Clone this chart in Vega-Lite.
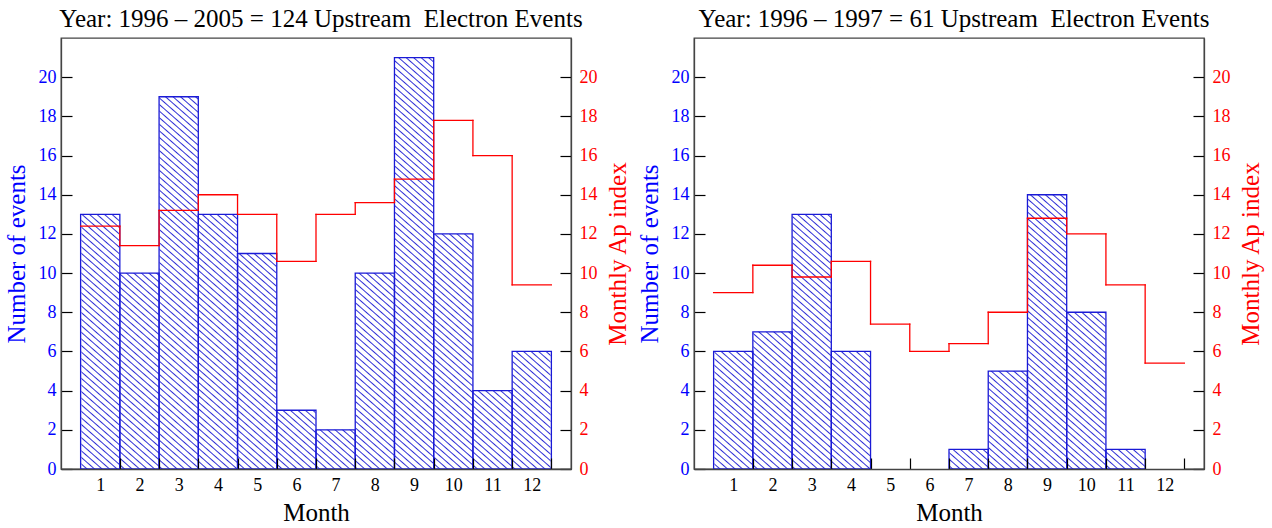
{
  "$schema": "https://vega.github.io/schema/vega-lite/v6.json",
  "background": "white",
  "padding": {"left": 3, "top": 6, "right": 2, "bottom": 0},
  "spacing": 5,
  "params": [
    {
      "name": "hatchFill",
      "value": {
        "gradient": "linear", "x1": 0, "y1": 1, "x2": 1, "y2": 0,
        "stops": [
          {"offset":0.0044,"color":"#fff"},{"offset":0.0060,"color":"#2e2ed6"},{"offset":0.0076,"color":"#fff"},
          {"offset":0.0124,"color":"#fff"},{"offset":0.0140,"color":"#2e2ed6"},{"offset":0.0156,"color":"#fff"},
          {"offset":0.0204,"color":"#fff"},{"offset":0.0220,"color":"#2e2ed6"},{"offset":0.0236,"color":"#fff"},
          {"offset":0.0284,"color":"#fff"},{"offset":0.0300,"color":"#2e2ed6"},{"offset":0.0316,"color":"#fff"},
          {"offset":0.0364,"color":"#fff"},{"offset":0.0380,"color":"#2e2ed6"},{"offset":0.0396,"color":"#fff"},
          {"offset":0.0444,"color":"#fff"},{"offset":0.0460,"color":"#2e2ed6"},{"offset":0.0476,"color":"#fff"},
          {"offset":0.0524,"color":"#fff"},{"offset":0.0540,"color":"#2e2ed6"},{"offset":0.0556,"color":"#fff"},
          {"offset":0.0604,"color":"#fff"},{"offset":0.0620,"color":"#2e2ed6"},{"offset":0.0636,"color":"#fff"},
          {"offset":0.0684,"color":"#fff"},{"offset":0.0700,"color":"#2e2ed6"},{"offset":0.0716,"color":"#fff"},
          {"offset":0.0764,"color":"#fff"},{"offset":0.0780,"color":"#2e2ed6"},{"offset":0.0796,"color":"#fff"},
          {"offset":0.0844,"color":"#fff"},{"offset":0.0860,"color":"#2e2ed6"},{"offset":0.0876,"color":"#fff"},
          {"offset":0.0924,"color":"#fff"},{"offset":0.0940,"color":"#2e2ed6"},{"offset":0.0956,"color":"#fff"},
          {"offset":0.1004,"color":"#fff"},{"offset":0.1020,"color":"#2e2ed6"},{"offset":0.1036,"color":"#fff"},
          {"offset":0.1084,"color":"#fff"},{"offset":0.1100,"color":"#2e2ed6"},{"offset":0.1116,"color":"#fff"},
          {"offset":0.1164,"color":"#fff"},{"offset":0.1180,"color":"#2e2ed6"},{"offset":0.1196,"color":"#fff"},
          {"offset":0.1244,"color":"#fff"},{"offset":0.1260,"color":"#2e2ed6"},{"offset":0.1276,"color":"#fff"},
          {"offset":0.1324,"color":"#fff"},{"offset":0.1340,"color":"#2e2ed6"},{"offset":0.1356,"color":"#fff"},
          {"offset":0.1404,"color":"#fff"},{"offset":0.1420,"color":"#2e2ed6"},{"offset":0.1436,"color":"#fff"},
          {"offset":0.1484,"color":"#fff"},{"offset":0.1500,"color":"#2e2ed6"},{"offset":0.1516,"color":"#fff"},
          {"offset":0.1564,"color":"#fff"},{"offset":0.1580,"color":"#2e2ed6"},{"offset":0.1596,"color":"#fff"},
          {"offset":0.1644,"color":"#fff"},{"offset":0.1660,"color":"#2e2ed6"},{"offset":0.1676,"color":"#fff"},
          {"offset":0.1724,"color":"#fff"},{"offset":0.1740,"color":"#2e2ed6"},{"offset":0.1756,"color":"#fff"},
          {"offset":0.1804,"color":"#fff"},{"offset":0.1820,"color":"#2e2ed6"},{"offset":0.1836,"color":"#fff"},
          {"offset":0.1884,"color":"#fff"},{"offset":0.1900,"color":"#2e2ed6"},{"offset":0.1916,"color":"#fff"},
          {"offset":0.1964,"color":"#fff"},{"offset":0.1980,"color":"#2e2ed6"},{"offset":0.1996,"color":"#fff"},
          {"offset":0.2044,"color":"#fff"},{"offset":0.2060,"color":"#2e2ed6"},{"offset":0.2076,"color":"#fff"},
          {"offset":0.2124,"color":"#fff"},{"offset":0.2140,"color":"#2e2ed6"},{"offset":0.2156,"color":"#fff"},
          {"offset":0.2204,"color":"#fff"},{"offset":0.2220,"color":"#2e2ed6"},{"offset":0.2236,"color":"#fff"},
          {"offset":0.2284,"color":"#fff"},{"offset":0.2300,"color":"#2e2ed6"},{"offset":0.2316,"color":"#fff"},
          {"offset":0.2364,"color":"#fff"},{"offset":0.2380,"color":"#2e2ed6"},{"offset":0.2396,"color":"#fff"},
          {"offset":0.2444,"color":"#fff"},{"offset":0.2460,"color":"#2e2ed6"},{"offset":0.2476,"color":"#fff"},
          {"offset":0.2524,"color":"#fff"},{"offset":0.2540,"color":"#2e2ed6"},{"offset":0.2556,"color":"#fff"},
          {"offset":0.2604,"color":"#fff"},{"offset":0.2620,"color":"#2e2ed6"},{"offset":0.2636,"color":"#fff"},
          {"offset":0.2684,"color":"#fff"},{"offset":0.2700,"color":"#2e2ed6"},{"offset":0.2716,"color":"#fff"},
          {"offset":0.2764,"color":"#fff"},{"offset":0.2780,"color":"#2e2ed6"},{"offset":0.2796,"color":"#fff"},
          {"offset":0.2844,"color":"#fff"},{"offset":0.2860,"color":"#2e2ed6"},{"offset":0.2876,"color":"#fff"},
          {"offset":0.2924,"color":"#fff"},{"offset":0.2940,"color":"#2e2ed6"},{"offset":0.2956,"color":"#fff"},
          {"offset":0.3004,"color":"#fff"},{"offset":0.3020,"color":"#2e2ed6"},{"offset":0.3036,"color":"#fff"},
          {"offset":0.3084,"color":"#fff"},{"offset":0.3100,"color":"#2e2ed6"},{"offset":0.3116,"color":"#fff"},
          {"offset":0.3164,"color":"#fff"},{"offset":0.3180,"color":"#2e2ed6"},{"offset":0.3196,"color":"#fff"},
          {"offset":0.3244,"color":"#fff"},{"offset":0.3260,"color":"#2e2ed6"},{"offset":0.3276,"color":"#fff"},
          {"offset":0.3324,"color":"#fff"},{"offset":0.3340,"color":"#2e2ed6"},{"offset":0.3356,"color":"#fff"},
          {"offset":0.3404,"color":"#fff"},{"offset":0.3420,"color":"#2e2ed6"},{"offset":0.3436,"color":"#fff"},
          {"offset":0.3484,"color":"#fff"},{"offset":0.3500,"color":"#2e2ed6"},{"offset":0.3516,"color":"#fff"},
          {"offset":0.3564,"color":"#fff"},{"offset":0.3580,"color":"#2e2ed6"},{"offset":0.3596,"color":"#fff"},
          {"offset":0.3644,"color":"#fff"},{"offset":0.3660,"color":"#2e2ed6"},{"offset":0.3676,"color":"#fff"},
          {"offset":0.3724,"color":"#fff"},{"offset":0.3740,"color":"#2e2ed6"},{"offset":0.3756,"color":"#fff"},
          {"offset":0.3804,"color":"#fff"},{"offset":0.3820,"color":"#2e2ed6"},{"offset":0.3836,"color":"#fff"},
          {"offset":0.3884,"color":"#fff"},{"offset":0.3900,"color":"#2e2ed6"},{"offset":0.3916,"color":"#fff"},
          {"offset":0.3964,"color":"#fff"},{"offset":0.3980,"color":"#2e2ed6"},{"offset":0.3996,"color":"#fff"},
          {"offset":0.4044,"color":"#fff"},{"offset":0.4060,"color":"#2e2ed6"},{"offset":0.4076,"color":"#fff"},
          {"offset":0.4124,"color":"#fff"},{"offset":0.4140,"color":"#2e2ed6"},{"offset":0.4156,"color":"#fff"},
          {"offset":0.4204,"color":"#fff"},{"offset":0.4220,"color":"#2e2ed6"},{"offset":0.4236,"color":"#fff"},
          {"offset":0.4284,"color":"#fff"},{"offset":0.4300,"color":"#2e2ed6"},{"offset":0.4316,"color":"#fff"},
          {"offset":0.4364,"color":"#fff"},{"offset":0.4380,"color":"#2e2ed6"},{"offset":0.4396,"color":"#fff"},
          {"offset":0.4444,"color":"#fff"},{"offset":0.4460,"color":"#2e2ed6"},{"offset":0.4476,"color":"#fff"},
          {"offset":0.4524,"color":"#fff"},{"offset":0.4540,"color":"#2e2ed6"},{"offset":0.4556,"color":"#fff"},
          {"offset":0.4604,"color":"#fff"},{"offset":0.4620,"color":"#2e2ed6"},{"offset":0.4636,"color":"#fff"},
          {"offset":0.4684,"color":"#fff"},{"offset":0.4700,"color":"#2e2ed6"},{"offset":0.4716,"color":"#fff"},
          {"offset":0.4764,"color":"#fff"},{"offset":0.4780,"color":"#2e2ed6"},{"offset":0.4796,"color":"#fff"},
          {"offset":0.4844,"color":"#fff"},{"offset":0.4860,"color":"#2e2ed6"},{"offset":0.4876,"color":"#fff"},
          {"offset":0.4924,"color":"#fff"},{"offset":0.4940,"color":"#2e2ed6"},{"offset":0.4956,"color":"#fff"},
          {"offset":0.5004,"color":"#fff"},{"offset":0.5020,"color":"#2e2ed6"},{"offset":0.5036,"color":"#fff"},
          {"offset":0.5084,"color":"#fff"},{"offset":0.5100,"color":"#2e2ed6"},{"offset":0.5116,"color":"#fff"},
          {"offset":0.5164,"color":"#fff"},{"offset":0.5180,"color":"#2e2ed6"},{"offset":0.5196,"color":"#fff"},
          {"offset":0.5244,"color":"#fff"},{"offset":0.5260,"color":"#2e2ed6"},{"offset":0.5276,"color":"#fff"},
          {"offset":0.5324,"color":"#fff"},{"offset":0.5340,"color":"#2e2ed6"},{"offset":0.5356,"color":"#fff"},
          {"offset":0.5404,"color":"#fff"},{"offset":0.5420,"color":"#2e2ed6"},{"offset":0.5436,"color":"#fff"},
          {"offset":0.5484,"color":"#fff"},{"offset":0.5500,"color":"#2e2ed6"},{"offset":0.5516,"color":"#fff"},
          {"offset":0.5564,"color":"#fff"},{"offset":0.5580,"color":"#2e2ed6"},{"offset":0.5596,"color":"#fff"},
          {"offset":0.5644,"color":"#fff"},{"offset":0.5660,"color":"#2e2ed6"},{"offset":0.5676,"color":"#fff"},
          {"offset":0.5724,"color":"#fff"},{"offset":0.5740,"color":"#2e2ed6"},{"offset":0.5756,"color":"#fff"},
          {"offset":0.5804,"color":"#fff"},{"offset":0.5820,"color":"#2e2ed6"},{"offset":0.5836,"color":"#fff"},
          {"offset":0.5884,"color":"#fff"},{"offset":0.5900,"color":"#2e2ed6"},{"offset":0.5916,"color":"#fff"},
          {"offset":0.5964,"color":"#fff"},{"offset":0.5980,"color":"#2e2ed6"},{"offset":0.5996,"color":"#fff"},
          {"offset":0.6044,"color":"#fff"},{"offset":0.6060,"color":"#2e2ed6"},{"offset":0.6076,"color":"#fff"},
          {"offset":0.6124,"color":"#fff"},{"offset":0.6140,"color":"#2e2ed6"},{"offset":0.6156,"color":"#fff"},
          {"offset":0.6204,"color":"#fff"},{"offset":0.6220,"color":"#2e2ed6"},{"offset":0.6236,"color":"#fff"},
          {"offset":0.6284,"color":"#fff"},{"offset":0.6300,"color":"#2e2ed6"},{"offset":0.6316,"color":"#fff"},
          {"offset":0.6364,"color":"#fff"},{"offset":0.6380,"color":"#2e2ed6"},{"offset":0.6396,"color":"#fff"},
          {"offset":0.6444,"color":"#fff"},{"offset":0.6460,"color":"#2e2ed6"},{"offset":0.6476,"color":"#fff"},
          {"offset":0.6524,"color":"#fff"},{"offset":0.6540,"color":"#2e2ed6"},{"offset":0.6556,"color":"#fff"},
          {"offset":0.6604,"color":"#fff"},{"offset":0.6620,"color":"#2e2ed6"},{"offset":0.6636,"color":"#fff"},
          {"offset":0.6684,"color":"#fff"},{"offset":0.6700,"color":"#2e2ed6"},{"offset":0.6716,"color":"#fff"},
          {"offset":0.6764,"color":"#fff"},{"offset":0.6780,"color":"#2e2ed6"},{"offset":0.6796,"color":"#fff"},
          {"offset":0.6844,"color":"#fff"},{"offset":0.6860,"color":"#2e2ed6"},{"offset":0.6876,"color":"#fff"},
          {"offset":0.6924,"color":"#fff"},{"offset":0.6940,"color":"#2e2ed6"},{"offset":0.6956,"color":"#fff"},
          {"offset":0.7004,"color":"#fff"},{"offset":0.7020,"color":"#2e2ed6"},{"offset":0.7036,"color":"#fff"},
          {"offset":0.7084,"color":"#fff"},{"offset":0.7100,"color":"#2e2ed6"},{"offset":0.7116,"color":"#fff"},
          {"offset":0.7164,"color":"#fff"},{"offset":0.7180,"color":"#2e2ed6"},{"offset":0.7196,"color":"#fff"},
          {"offset":0.7244,"color":"#fff"},{"offset":0.7260,"color":"#2e2ed6"},{"offset":0.7276,"color":"#fff"},
          {"offset":0.7324,"color":"#fff"},{"offset":0.7340,"color":"#2e2ed6"},{"offset":0.7356,"color":"#fff"},
          {"offset":0.7404,"color":"#fff"},{"offset":0.7420,"color":"#2e2ed6"},{"offset":0.7436,"color":"#fff"},
          {"offset":0.7484,"color":"#fff"},{"offset":0.7500,"color":"#2e2ed6"},{"offset":0.7516,"color":"#fff"},
          {"offset":0.7564,"color":"#fff"},{"offset":0.7580,"color":"#2e2ed6"},{"offset":0.7596,"color":"#fff"},
          {"offset":0.7644,"color":"#fff"},{"offset":0.7660,"color":"#2e2ed6"},{"offset":0.7676,"color":"#fff"},
          {"offset":0.7724,"color":"#fff"},{"offset":0.7740,"color":"#2e2ed6"},{"offset":0.7756,"color":"#fff"},
          {"offset":0.7804,"color":"#fff"},{"offset":0.7820,"color":"#2e2ed6"},{"offset":0.7836,"color":"#fff"},
          {"offset":0.7884,"color":"#fff"},{"offset":0.7900,"color":"#2e2ed6"},{"offset":0.7916,"color":"#fff"},
          {"offset":0.7964,"color":"#fff"},{"offset":0.7980,"color":"#2e2ed6"},{"offset":0.7996,"color":"#fff"},
          {"offset":0.8044,"color":"#fff"},{"offset":0.8060,"color":"#2e2ed6"},{"offset":0.8076,"color":"#fff"},
          {"offset":0.8124,"color":"#fff"},{"offset":0.8140,"color":"#2e2ed6"},{"offset":0.8156,"color":"#fff"},
          {"offset":0.8204,"color":"#fff"},{"offset":0.8220,"color":"#2e2ed6"},{"offset":0.8236,"color":"#fff"},
          {"offset":0.8284,"color":"#fff"},{"offset":0.8300,"color":"#2e2ed6"},{"offset":0.8316,"color":"#fff"},
          {"offset":0.8364,"color":"#fff"},{"offset":0.8380,"color":"#2e2ed6"},{"offset":0.8396,"color":"#fff"},
          {"offset":0.8444,"color":"#fff"},{"offset":0.8460,"color":"#2e2ed6"},{"offset":0.8476,"color":"#fff"},
          {"offset":0.8524,"color":"#fff"},{"offset":0.8540,"color":"#2e2ed6"},{"offset":0.8556,"color":"#fff"},
          {"offset":0.8604,"color":"#fff"},{"offset":0.8620,"color":"#2e2ed6"},{"offset":0.8636,"color":"#fff"},
          {"offset":0.8684,"color":"#fff"},{"offset":0.8700,"color":"#2e2ed6"},{"offset":0.8716,"color":"#fff"},
          {"offset":0.8764,"color":"#fff"},{"offset":0.8780,"color":"#2e2ed6"},{"offset":0.8796,"color":"#fff"},
          {"offset":0.8844,"color":"#fff"},{"offset":0.8860,"color":"#2e2ed6"},{"offset":0.8876,"color":"#fff"},
          {"offset":0.8924,"color":"#fff"},{"offset":0.8940,"color":"#2e2ed6"},{"offset":0.8956,"color":"#fff"},
          {"offset":0.9004,"color":"#fff"},{"offset":0.9020,"color":"#2e2ed6"},{"offset":0.9036,"color":"#fff"},
          {"offset":0.9084,"color":"#fff"},{"offset":0.9100,"color":"#2e2ed6"},{"offset":0.9116,"color":"#fff"},
          {"offset":0.9164,"color":"#fff"},{"offset":0.9180,"color":"#2e2ed6"},{"offset":0.9196,"color":"#fff"},
          {"offset":0.9244,"color":"#fff"},{"offset":0.9260,"color":"#2e2ed6"},{"offset":0.9276,"color":"#fff"},
          {"offset":0.9324,"color":"#fff"},{"offset":0.9340,"color":"#2e2ed6"},{"offset":0.9356,"color":"#fff"},
          {"offset":0.9404,"color":"#fff"},{"offset":0.9420,"color":"#2e2ed6"},{"offset":0.9436,"color":"#fff"},
          {"offset":0.9484,"color":"#fff"},{"offset":0.9500,"color":"#2e2ed6"},{"offset":0.9516,"color":"#fff"},
          {"offset":0.9564,"color":"#fff"},{"offset":0.9580,"color":"#2e2ed6"},{"offset":0.9596,"color":"#fff"},
          {"offset":0.9644,"color":"#fff"},{"offset":0.9660,"color":"#2e2ed6"},{"offset":0.9676,"color":"#fff"},
          {"offset":0.9724,"color":"#fff"},{"offset":0.9740,"color":"#2e2ed6"},{"offset":0.9756,"color":"#fff"},
          {"offset":0.9804,"color":"#fff"},{"offset":0.9820,"color":"#2e2ed6"},{"offset":0.9836,"color":"#fff"},
          {"offset":0.9884,"color":"#fff"},{"offset":0.9900,"color":"#2e2ed6"},{"offset":0.9916,"color":"#fff"},
          {"offset":0.9964,"color":"#fff"},{"offset":0.9980,"color":"#2e2ed6"},{"offset":0.9996,"color":"#fff"}
        ]
      }
    }
  ],
  "datasets": {
    "all": [
      {"month": 1, "count": 13, "ap": 12.4},
      {"month": 2, "count": 10, "ap": 11.4},
      {"month": 3, "count": 19, "ap": 13.2},
      {"month": 4, "count": 13, "ap": 14.0},
      {"month": 5, "count": 11, "ap": 13.0},
      {"month": 6, "count": 3, "ap": 10.6},
      {"month": 7, "count": 2, "ap": 13.0},
      {"month": 8, "count": 10, "ap": 13.6},
      {"month": 9, "count": 21, "ap": 14.8},
      {"month": 10, "count": 12, "ap": 17.8},
      {"month": 11, "count": 4, "ap": 16.0},
      {"month": 12, "count": 6, "ap": 9.4}
    ],
    "early": [
      {"month": 1, "count": 6, "ap": 9.0},
      {"month": 2, "count": 7, "ap": 10.4},
      {"month": 3, "count": 13, "ap": 9.8},
      {"month": 4, "count": 6, "ap": 10.6},
      {"month": 5, "count": 0, "ap": 7.4},
      {"month": 6, "count": 0, "ap": 6.0},
      {"month": 7, "count": 1, "ap": 6.4},
      {"month": 8, "count": 5, "ap": 8.0},
      {"month": 9, "count": 14, "ap": 12.8},
      {"month": 10, "count": 8, "ap": 12.0},
      {"month": 11, "count": 1, "ap": 9.4},
      {"month": 12, "count": 0, "ap": 5.4}
    ]
  },
  "hconcat": [
    {
      "title": {"text": "Year: 1996 – 2005 = 124 Upstream\u00a0 Electron Events", "dx": 5},
      "width": 510,
      "height": 431,
      "data": {"name": "all"},
      "transform": [
        {"calculate": "datum.month - 0.5", "as": "x0"},
        {"calculate": "datum.month + 0.5", "as": "x1"}
      ],
      "layer": [
        {
          "layer": [
            {
              "transform": [
                {"aggregate": [{"op": "min", "field": "x0", "as": "lo"}, {"op": "max", "field": "x1", "as": "hi"}]},
                {"calculate": "datum.lo + 0.02", "as": "lo"},
                {"calculate": "datum.hi - 0.02", "as": "hi"}
              ],
              "mark": {"type": "rect", "fill": {"expr": "hatchFill"}, "strokeWidth": 0},
              "encoding": {
                "x": {"field": "lo", "type": "quantitative", "scale": {"domain": [0, 13], "nice": false}, "axis": {"values": [1, 2, 3, 4, 5, 6, 7, 8, 9, 10, 11, 12], "tickOffset": 19.6, "labelOffset": -19.6, "zindex": 1}, "title": "Month"},
                "x2": {"field": "hi"},
                "y": {"datum": 0, "type": "quantitative", "scale": {"domain": [0, 22], "nice": false}, "axis": {"values": [0, 2, 4, 6, 8, 10, 12, 14, 16, 18, 20]}, "title": "Number of events"},
                "y2": {"datum": 21}
              }
            },
            {
              "transform": [
                {"calculate": "datum.month - 0.51", "as": "c0"},
                {"calculate": "datum.month + 0.51", "as": "c1"}
              ],
              "mark": {"type": "rect", "fill": "#ffffff", "strokeWidth": 0},
              "encoding": {
                "x": {"field": "c0", "type": "quantitative", "title": "Month"},
                "x2": {"field": "c1"},
                "y": {"field": "count", "type": "quantitative", "title": "Number of events"},
                "y2": {"datum": 21.1}
              }
            },
            {
              "transform": [{"filter": "datum.count > 0"}],
              "mark": {"type": "rect", "filled": false, "stroke": "#1a1ad6", "strokeWidth": 1.3},
              "encoding": {
                "x": {"field": "x0", "type": "quantitative", "title": "Month"},
                "x2": {"field": "x1"},
                "y": {"field": "count", "type": "quantitative", "title": "Number of events"},
                "y2": {"datum": 0}
              }
            }
          ]
        },
        {
          "layer": [
            {
              "mark": {"type": "rule", "stroke": "#ff0000", "strokeWidth": 1.3, "strokeCap": "square"},
              "encoding": {
                "x": {"field": "x0", "type": "quantitative", "title": "Month"},
                "x2": {"field": "x1"},
                "y": {"field": "ap", "type": "quantitative", "scale": {"domain": [0, 22], "nice": false}, "axis": {"orient": "right", "values": [0, 2, 4, 6, 8, 10, 12, 14, 16, 18, 20]}, "title": "Monthly Ap index"}
              }
            },
            {
              "transform": [
                {"window": [{"op": "lag", "field": "ap", "as": "prev"}], "sort": [{"field": "month", "order": "ascending"}]},
                {"filter": "datum.prev != null"}
              ],
              "mark": {"type": "rule", "stroke": "#ff0000", "strokeWidth": 1.3, "strokeCap": "square"},
              "encoding": {
                "x": {"field": "x0", "type": "quantitative", "title": "Month"},
                "y": {"field": "prev", "type": "quantitative", "title": "Monthly Ap index"},
                "y2": {"field": "ap"}
              }
            }
          ]
        }
      ],
      "resolve": {"scale": {"y": "independent"}}
    },
    {
      "title": {"text": "Year: 1996 – 1997 = 61 Upstream\u00a0 Electron Events", "dx": 5},
      "width": 510,
      "height": 431,
      "data": {"name": "early"},
      "transform": [
        {"calculate": "datum.month - 0.5", "as": "x0"},
        {"calculate": "datum.month + 0.5", "as": "x1"}
      ],
      "layer": [
        {
          "layer": [
            {
              "transform": [
                {"aggregate": [{"op": "min", "field": "x0", "as": "lo"}, {"op": "max", "field": "x1", "as": "hi"}]},
                {"calculate": "datum.lo + 0.02", "as": "lo"},
                {"calculate": "datum.hi - 0.02", "as": "hi"}
              ],
              "mark": {"type": "rect", "fill": {"expr": "hatchFill"}, "strokeWidth": 0},
              "encoding": {
                "x": {"field": "lo", "type": "quantitative", "scale": {"domain": [0, 13], "nice": false}, "axis": {"values": [1, 2, 3, 4, 5, 6, 7, 8, 9, 10, 11, 12], "tickOffset": 19.6, "labelOffset": -19.6, "zindex": 1}, "title": "Month"},
                "x2": {"field": "hi"},
                "y": {"datum": 0, "type": "quantitative", "scale": {"domain": [0, 22], "nice": false}, "axis": {"values": [0, 2, 4, 6, 8, 10, 12, 14, 16, 18, 20]}, "title": "Number of events"},
                "y2": {"datum": 21}
              }
            },
            {
              "transform": [
                {"calculate": "datum.month - 0.51", "as": "c0"},
                {"calculate": "datum.month + 0.51", "as": "c1"}
              ],
              "mark": {"type": "rect", "fill": "#ffffff", "strokeWidth": 0},
              "encoding": {
                "x": {"field": "c0", "type": "quantitative", "title": "Month"},
                "x2": {"field": "c1"},
                "y": {"field": "count", "type": "quantitative", "title": "Number of events"},
                "y2": {"datum": 21.1}
              }
            },
            {
              "transform": [{"filter": "datum.count > 0"}],
              "mark": {"type": "rect", "filled": false, "stroke": "#1a1ad6", "strokeWidth": 1.3},
              "encoding": {
                "x": {"field": "x0", "type": "quantitative", "title": "Month"},
                "x2": {"field": "x1"},
                "y": {"field": "count", "type": "quantitative", "title": "Number of events"},
                "y2": {"datum": 0}
              }
            }
          ]
        },
        {
          "layer": [
            {
              "mark": {"type": "rule", "stroke": "#ff0000", "strokeWidth": 1.3, "strokeCap": "square"},
              "encoding": {
                "x": {"field": "x0", "type": "quantitative", "title": "Month"},
                "x2": {"field": "x1"},
                "y": {"field": "ap", "type": "quantitative", "scale": {"domain": [0, 22], "nice": false}, "axis": {"orient": "right", "values": [0, 2, 4, 6, 8, 10, 12, 14, 16, 18, 20]}, "title": "Monthly Ap index"}
              }
            },
            {
              "transform": [
                {"window": [{"op": "lag", "field": "ap", "as": "prev"}], "sort": [{"field": "month", "order": "ascending"}]},
                {"filter": "datum.prev != null"}
              ],
              "mark": {"type": "rule", "stroke": "#ff0000", "strokeWidth": 1.3, "strokeCap": "square"},
              "encoding": {
                "x": {"field": "x0", "type": "quantitative", "title": "Month"},
                "y": {"field": "prev", "type": "quantitative", "title": "Monthly Ap index"},
                "y2": {"field": "ap"}
              }
            }
          ]
        }
      ],
      "resolve": {"scale": {"y": "independent"}}
    }
  ],
  "config": {
    "font": "Liberation Serif",
    "view": {"stroke": "#444444", "strokeWidth": 1.3},
    "title": {"font": "Liberation Serif", "fontSize": 25, "fontWeight": "normal", "color": "#000000", "anchor": "middle", "frame": "group", "offset": 6},
    "axis": {
      "grid": false,
      "domainColor": "#444444",
      "domainWidth": 1.3,
      "tickColor": "#000000",
      "tickWidth": 1.2,
      "tickSize": -11,
      "labelFont": "Liberation Serif",
      "labelFontSize": 18,
      "titleFont": "Liberation Serif",
      "titleFontSize": 25,
      "titleFontWeight": "normal"
    },
    "axisLeft": {"labelColor": "#0000ff", "titleColor": "#0000ff", "labelPadding": 16, "titlePadding": 9},
    "axisRight": {"labelColor": "#ff0000", "titleColor": "#ff0000", "labelPadding": 19, "titleAngle": 270, "titleBaseline": "top", "titlePadding": 8},
    "axisBottom": {"labelColor": "#000000", "titleColor": "#000000", "labelPadding": 18, "titlePadding": 6}
  }
}
